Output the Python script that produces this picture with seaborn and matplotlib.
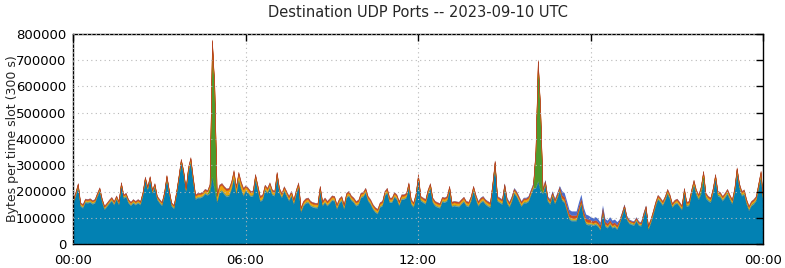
import numpy as np
import pandas as pd
import matplotlib
matplotlib.use("Agg")
import matplotlib.pyplot as plt
import seaborn as sns

# ---- data (thousands of bytes per 300 s slot) ----
slot_minutes = 5
total_k = [
    172, 200, 233, 160, 153, 174, 172, 175, 168, 172, 196, 217,
    175, 147, 158, 170, 180, 165, 186, 165, 237, 190, 196, 172,
    162, 172, 165, 172, 165, 200, 258, 221, 260, 209, 233, 185,
    172, 162, 200, 264, 209, 160, 150, 200, 260, 326, 283, 215,
    295, 332, 258, 190, 196, 196, 200, 211, 206, 230, 780, 600,
    190, 227, 233, 221, 212, 215, 240, 283, 221, 276, 240, 215,
    225, 215, 203, 205, 268, 225, 184, 190, 227, 215, 236, 209,
    203, 276, 215, 196, 221, 203, 184, 203, 172, 209, 236, 141,
    165, 175, 178, 165, 160, 158, 157, 223, 165, 178, 165, 175,
    186, 184, 153, 175, 184, 153, 196, 203, 186, 178, 165, 169,
    196, 200, 215, 184, 172, 153, 141, 135, 160, 165, 203, 215,
    178, 178, 199, 190, 165, 190, 190, 196, 236, 172, 160, 196,
    268, 184, 178, 172, 209, 233, 178, 165, 160, 157, 181, 178,
    184, 223, 162, 165, 163, 162, 172, 181, 165, 162, 184, 223,
    190, 165, 178, 184, 172, 165, 160, 233, 320, 184, 178, 172,
    233, 178, 162, 184, 215, 203, 184, 165, 178, 178, 184, 209,
    233, 360, 705, 520, 215, 246, 184, 172, 203, 174, 196, 223,
    203, 196, 165, 132, 126, 126, 126, 160, 190, 141, 114, 110,
    104, 100, 104, 97, 83, 149, 97, 91, 104, 91, 95, 85,
    95, 122, 153, 110, 95, 91, 88, 104, 88, 85, 120, 149,
    73, 97, 128, 162, 188, 178, 165, 184, 211, 190, 157, 169,
    174, 162, 149, 215, 162, 165, 209, 246, 209, 190, 221, 280,
    196, 184, 178, 215, 268, 203, 199, 184, 196, 211, 190, 172,
    215, 293, 233, 203, 209, 172, 147, 165, 172, 184, 233, 280,
    172,
]

green_k = [
    3, 3, 3, 3, 3, 3, 3, 3, 3, 3, 3, 3,
    3, 3, 3, 3, 3, 3, 3, 3, 3, 3, 3, 3,
    3, 3, 3, 3, 3, 3, 3, 3, 3, 3, 3, 3,
    3, 3, 3, 3, 3, 3, 3, 3, 4, 6, 4, 3,
    4, 6, 4, 3, 3, 3, 3, 3, 3, 20, 510, 380,
    4, 4, 4, 4, 4, 4, 4, 4, 4, 4, 4, 4,
    3, 3, 3, 3, 3, 3, 3, 3, 3, 3, 3, 3,
    3, 3, 3, 3, 3, 3, 3, 3, 3, 3, 3, 3,
    3, 3, 3, 3, 3, 3, 3, 3, 3, 3, 3, 3,
    3, 3, 3, 3, 3, 3, 3, 3, 3, 3, 3, 3,
    3, 3, 3, 3, 3, 3, 3, 3, 3, 3, 3, 3,
    3, 3, 3, 3, 3, 3, 3, 3, 3, 3, 3, 3,
    3, 3, 3, 3, 3, 3, 3, 3, 3, 3, 3, 3,
    3, 3, 3, 3, 3, 3, 3, 3, 3, 3, 3, 3,
    3, 3, 3, 3, 3, 3, 3, 3, 4, 3, 3, 3,
    3, 3, 3, 3, 3, 3, 3, 3, 3, 3, 3, 3,
    5, 130, 450, 300, 6, 5, 3, 3, 3, 3, 3, 3,
    3, 3, 3, 3, 3, 3, 3, 3, 3, 3, 3, 3,
    3, 3, 3, 3, 3, 3, 3, 3, 3, 3, 3, 3,
    3, 3, 3, 3, 3, 3, 3, 3, 3, 3, 3, 3,
    3, 3, 3, 3, 3, 3, 3, 3, 5, 4, 3, 3,
    3, 3, 3, 4, 3, 3, 4, 8, 6, 5, 15, 25,
    6, 4, 4, 4, 6, 4, 4, 4, 4, 5, 4, 4,
    4, 8, 5, 4, 4, 4, 4, 4, 4, 4, 8, 10,
    4,
]

# hourly composition of the thin layers (thousands)
lightblue_hourly = [3, 3, 3, 3, 3, 3, 3, 3, 3, 3, 3, 3,
                    3, 3, 3, 3, 3, 3, 3, 3, 3, 3, 3, 3]
orange_hourly = [5, 5, 5, 5, 8, 18, 10, 8, 8, 8, 8, 8,
                 8, 8, 8, 8, 6, 6, 5, 4, 6, 7, 7, 7]
red_hourly = [4, 4, 4, 4, 5, 6, 5, 5, 5, 5, 5, 5,
              5, 5, 5, 5, 5, 10, 7, 4, 5, 5, 5, 5]
darkblue_hourly = [1, 1, 1, 1, 1, 1, 1, 1, 1, 1, 1, 1,
                   1, 1, 2, 3, 4, 16, 12, 3, 1, 1, 1, 1]

x_tick_hours = [0, 6, 12, 18, 24]
x_tick_labels = ["00:00", "06:00", "12:00", "18:00", "00:00"]
y_ticks = [0, 100000, 200000, 300000, 400000, 500000, 600000, 700000, 800000]

layer_colors = ["#0281b3", "#5f9fc0", "#4e9a2c", "#eea20c", "#cf4a1c", "#4a6ccc"]
edge_colors = ["#1a6f96", "#5a96b4", "#458f26", "#e09500", "#b8401a", "#4a6ccc"]
edge_widths = [0.6, 0.0, 0.0, 0.25, 0.3, 0.0]

# ---- build table ----
n = len(total_k)
hours = np.arange(n) * slot_minutes / 60.0
hour_idx = np.minimum((np.arange(n) * slot_minutes) // 60, 23)
df = pd.DataFrame({
    "hour": hours,
    "total": np.array(total_k, dtype=float) * 1000,
    "green": np.array(green_k, dtype=float) * 1000,
    "lightblue": np.array(lightblue_hourly, dtype=float)[hour_idx] * 1000,
    "orange": np.array(orange_hourly, dtype=float)[hour_idx] * 1000,
    "red": np.array(red_hourly, dtype=float)[hour_idx] * 1000,
    "darkblue": np.array(darkblue_hourly, dtype=float)[hour_idx] * 1000,
})
df["main"] = df["total"] - df[["green", "lightblue", "orange", "red", "darkblue"]].sum(axis=1)
order = ["main", "lightblue", "green", "orange", "red", "darkblue"]

# ---- plot ----
sns.set_style("white")
plt.rcParams["font.family"] = ["DejaVu Sans"]

fig = plt.figure(figsize=(7.85, 2.68), dpi=100)
ax = fig.add_axes([73 / 785, 1 - 244 / 268, 690 / 785, 210 / 268])

polys = ax.stackplot(df["hour"], *[df[c] for c in order], colors=layer_colors, linewidth=0)
for p, ec, lw in zip(polys, edge_colors, edge_widths):
    p.set_edgecolor(ec)
    p.set_linewidth(lw)

ax.set_xlim(0, 24)
ax.set_ylim(0, 800000)
ax.set_xticks(x_tick_hours)
ax.set_xticklabels(x_tick_labels)
ax.set_yticks(y_ticks)
ax.set_yticklabels([str(v) for v in y_ticks])
ax.grid(True, linestyle=(0, (1, 3)), color="#b8b8b8", linewidth=0.8)
ax.set_axisbelow(False)
for s in ax.spines.values():
    s.set_visible(True)
    s.set_color("black")
    s.set_linewidth(1.0)
ax.tick_params(direction="in", length=5, width=1, top=True, right=True,
               labelsize=9.5, colors="black")
ax.tick_params(axis="x", pad=7)
ax.tick_params(axis="y", pad=5)
ax.set_ylabel("Bytes per time slot (300 s)", fontsize=9)
ax.yaxis.set_label_coords(-(73 - 19) / 690, 0.5)
ax.set_title("Destination UDP Ports -- 2023-09-10 UTC", fontsize=10.5, pad=12)

fig.savefig("out.png", dpi=100)
